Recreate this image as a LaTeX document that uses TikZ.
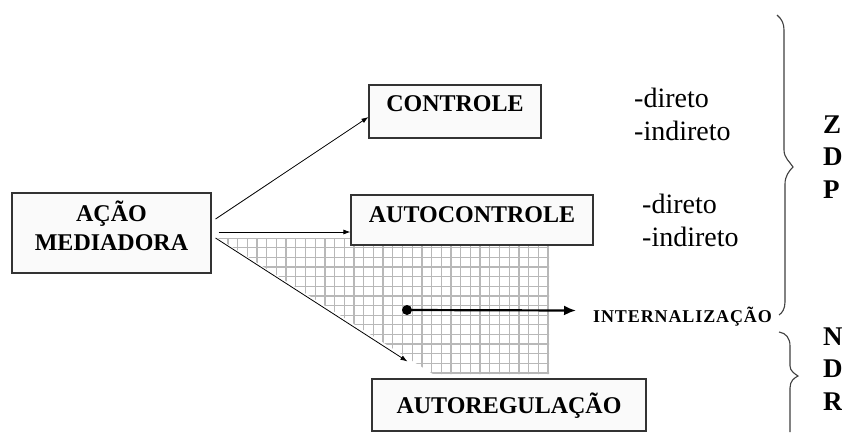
\documentclass[tikz,border=0pt]{standalone}
\usepackage{fontspec}
\setmainfont{Liberation Serif}
\newfontfamily\spacedserif{Liberation Serif}[LetterSpace=5]
\usetikzlibrary{arrows.meta}

\begin{document}
\begin{tikzpicture}[x=1pt,y=-1pt,
  box/.style={draw=black!80, line width=1.1pt, fill=black!2, inner sep=0pt,
    font=\fontsize{24}{29}\selectfont\bfseries, text height=16pt},
  arr/.style={draw=black, line width=0.8pt, -{Latex[length=7pt,width=5pt]}},
  bigarr/.style={draw=black, line width=2.2pt, -{Latex[length=12pt,width=10pt]}},
  gridline/.style={draw=black!28, line width=1.3pt},
  bracestyle/.style={draw=black!75, line width=1.1pt},
  note/.style={inner sep=0pt, align=left, font=\fontsize{28}{33}\selectfont},
  side/.style={inner sep=0pt, align=left, font=\fontsize{27}{32.5}\selectfont\bfseries},
  dot/.style={circle, fill=black, inner sep=0pt, minimum size=10pt}]

\useasboundingbox (0,0) rectangle (842,432);
\fill[white] (0,0) rectangle (842,432);

% checkered band between the mediating action and self-regulation
\begin{scope}
  \clip (218,238) -- (549,238) -- (549,374) -- (433,374) -- cycle;
  \foreach \i in {0,...,35} \draw[gridline] (548-\i*9.7,230) -- (548-\i*9.7,380);
  \foreach \j in {0,...,14} \draw[gridline] (210,373-\j*9.64) -- (555,373-\j*9.64);
\end{scope}

% boxes
\node[box, minimum width=199pt, minimum height=80pt, align=center,
  text height=45pt, text depth=11pt]
  (acao) at (111.5,233) {AÇÃO\\MEDIADORA};
\node[box, minimum width=172pt, minimum height=53pt, text depth=16pt]
  (ctrl) at (455,111.5) {CONTROLE};
\node[box, minimum width=242pt, minimum height=50pt, text depth=12pt]
  (auto) at (472,220) {AUTOCONTROLE};
\node[box, minimum width=274pt, minimum height=52pt, text depth=0pt]
  (reg) at (509,405) {AUTOREGULAÇÃO};

% connectors from the mediating action
\draw[arr] ([shift={(4,-14)}]acao.east) -- ([shift={(0,5.5)}]ctrl.west);
\draw[arr] ([shift={(7,-1)}]acao.east) -- ([shift={(0,12)}]auto.west);
\draw[arr] ([shift={(4,5)}]acao.east) -- ([shift={(36,-17)}]reg.north west);

% internalisation
\node[dot] (start) at (407,310) {};
\node[inner sep=0pt, anchor=west, font=\fontsize{18}{20}\spacedserif\bfseries]
  (intern) at (593,316.5) {INTERNALIZAÇÃO};
\draw[bigarr] (start.center) -- ([shift={(-17,-6)}]intern.west);

% modes of control
\node[note, anchor=west] (modes1) at (634,114.5) {-direto\\-indireto};
\node[note, anchor=west] (modes2) at (642,220.5) {-direto\\-indireto};

% braces
\draw[bracestyle] (777,15) .. controls (782,19) and (784,24) .. (784,30)
  -- (784,150) .. controls (784,158) and (790,162) .. (793,167)
  .. controls (789,171) and (785,176) .. (785,184)
  -- (785,302) .. controls (785,309) and (782,313) .. (779,315);
\draw[bracestyle] (779,332) .. controls (786,333) and (790,338) .. (790,346)
  -- (790,366) .. controls (790,371) and (795,374) .. (798,376)
  .. controls (794,378) and (790,381) .. (790,388) -- (790,432);

% zone labels
\node[side, anchor=west] (zdp) at (823,157) {Z\\D\\P};
\node[side, anchor=west] (ndr) at (823,369) {N\\D\\R};
\end{tikzpicture}
\end{document}
